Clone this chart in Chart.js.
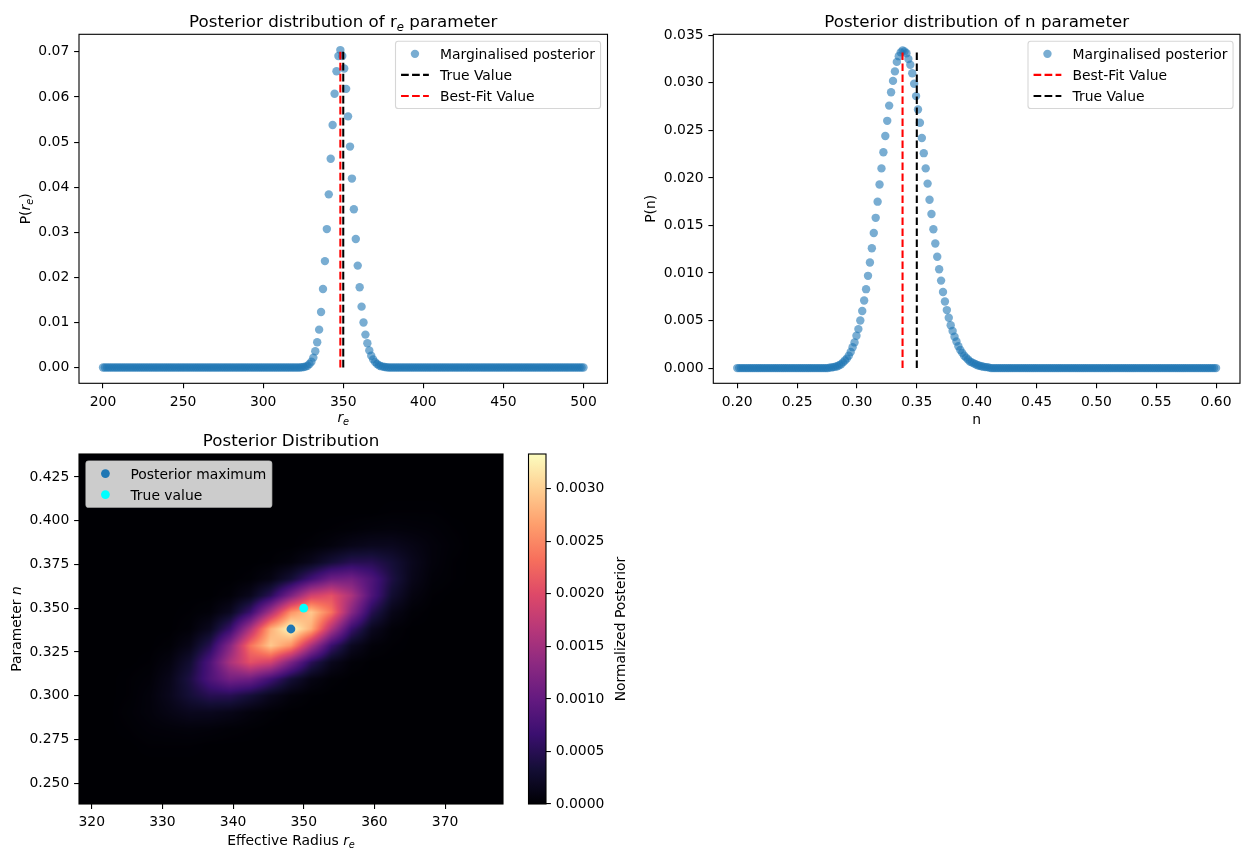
<!DOCTYPE html>
<html>
<head>
<meta charset="utf-8">
<script src="https://cdn.jsdelivr.net/npm/chart.js@4.4.1/dist/chart.umd.min.js"></script>
<style>
    html, body { margin: 0; padding: 0; background: #fff; }
    #fig { position: relative; width: 1251px; height: 861px; overflow: hidden; background: #fff; }
    #fig canvas { position: absolute; }
</style>
</head>
<body>
<div id="fig">
    <canvas id="reChart" width="625" height="440" style="left:0;top:0"></canvas>
    <canvas id="nChart" width="626" height="440" style="left:625px;top:0"></canvas>
    <canvas id="jointChart" width="515" height="431" style="left:0;top:430px"></canvas>
    <canvas id="cbChart" width="140" height="431" style="left:515px;top:430px"></canvas>
</div>
<script>
// Marginal posterior of r_e: 250 evenly spaced samples between the two grid ends
const reGrid = [200, 500];
const reValues = [
    0,0,0,0,0,0,0,0,0,0,0,0,0,0,0,0,0,0,0,0,
    0,0,0,0,0,0,0,0,0,0,0,0,0,0,0,0,0,0,0,0,
    0,0,0,0,0,0,0,0,0,0,0,0,0,0,0,0,0,0,0,0,
    0,0,0,0,0,0,0,0,0,0,0,0,0,0,0,0,0,0,0,0,
    0,0,0,0,0,0,0,0,0,0,0,0,0,0,0,0,0,0,0,0,
    0,0,0,
    0.00005, 0.0001, 0.0002, 0.0004, 0.0008, 0.0013, 0.0022, 0.0036, 0.0056, 0.0084,
    0.0123, 0.0174, 0.0236, 0.0307, 0.0384, 0.0463, 0.0538, 0.0607, 0.0657, 0.0691,
    0.0704, 0.0691, 0.0663, 0.0618, 0.0557, 0.0490, 0.0419, 0.0351, 0.0285, 0.0226,
    0.0178, 0.0135, 0.0100, 0.0073, 0.0054, 0.0038, 0.0026, 0.0018, 0.0012, 0.0008,
    0.0005, 0.0003, 0.0002, 0.0001, 0.00005,
    0,0,0,0,0,0,0,0,0,0,0,0,0,0,0,0,0,0,0,0,
    0,0,0,0,0,0,0,0,0,0,0,0,0,0,0,0,0,0,0,0,
    0,0,0,0,0,0,0,0,0,0,0,0,0,0,0,0,0,0,0,0,
    0,0,0,0,0,0,0,0,0,0,0,0,0,0,0,0,0,0,0,0,
    0,0,0,0,0,0,0,0,0,0,0,0,0,0,0,0,0,0,0,0,
    0,0
];
const reTrue = 350;
const reBest = 348.19;
const reLimX = [185, 515];
const reLimY = [-0.0035, 0.0739];
const reTicksX = [200, 250, 300, 350, 400, 450, 500];
const reTicksY = [0, 0.01, 0.02, 0.03, 0.04, 0.05, 0.06, 0.07];

// Marginal posterior of n: 250 evenly spaced samples between the two grid ends
const nGrid = [0.2, 0.6];
const nValues = [
    0,0,0,0,0,0,0,0,0,0,0,0,0,0,0,0,0,0,0,0,
    0,0,0,0,0,0,0,0,0,0,0,0,0,0,0,0,0,0,0,0,
    0,0,0,0,0,0,0,0,
    0.00005, 0.00007, 0.0001, 0.00015, 0.0002, 0.0003, 0.0004, 0.0006, 0.0008, 0.0010,
    0.0013, 0.0017, 0.0022, 0.0027, 0.0034, 0.0041, 0.0050, 0.0060, 0.0071, 0.0083,
    0.0097, 0.0111, 0.0126, 0.0142, 0.0158, 0.0175, 0.0193, 0.0210, 0.0227, 0.0244,
    0.0260, 0.0276, 0.0290, 0.0302, 0.0312, 0.0322, 0.0328, 0.0332, 0.0334, 0.0333,
    0.0331, 0.0325, 0.0319, 0.0310, 0.0299, 0.0286, 0.0272, 0.0258, 0.0242, 0.0226,
    0.0210, 0.0194, 0.0177, 0.0162, 0.0146, 0.0131, 0.0117, 0.0104, 0.0092, 0.0080,
    0.0070, 0.0061, 0.0053, 0.0045, 0.0039, 0.0033, 0.0028, 0.0023, 0.0019, 0.0016,
    0.0013, 0.0011, 0.0009, 0.0007, 0.0006, 0.0005, 0.0004, 0.0003, 0.00025, 0.0002,
    0.00015, 0.0001, 0.0001, 0.00005,
    0,0,0,0,0,0,0,0,0,0,0,0,0,0,0,0,0,0,0,0,
    0,0,0,0,0,0,0,0,0,0,0,0,0,0,0,0,0,0,0,0,
    0,0,0,0,0,0,0,0,0,0,0,0,0,0,0,0,0,0,0,0,
    0,0,0,0,0,0,0,0,0,0,0,0,0,0,0,0,0,0,0,0,
    0,0,0,0,0,0,0,0,0,0,0,0,0,0,0,0,0,0,0,0,
    0,0,0,0,0,0,0,0,0,0,0,0,0,0,0,0,0,0
];
const nTrue = 0.35;
const nBest = 0.3381;
const nLimX = [0.18, 0.62];
const nLimY = [-0.0016, 0.0351];
const nTicksX = [0.20, 0.25, 0.30, 0.35, 0.40, 0.45, 0.50, 0.55, 0.60];
const nTicksY = [0, 0.005, 0.010, 0.015, 0.020, 0.025, 0.030, 0.035];

// Joint posterior, 21 x 21 cells in units of 1e-5, first row = highest n
const jointX = [318.2, 378.2];
const jointY = [0.2381, 0.4381];
const jointUnit = 1e-5;
const jointGrid = [
    [0,0,0,0,0,0,0,0,0,0,0,0,0,0,0,0,0,0,0,0,0],
    [0,0,0,0,0,0,0,0,0,0,0,0,0,0,0,0,0,0,0,0,0],
    [0,0,0,0,0,0,0,0,0,0,0,0,0,0,0,0,0,0,0,0,0],
    [0,0,0,0,0,0,0,0,0,0,0,0,0,0,0,1,1,1,0,0,0],
    [0,0,0,0,0,0,0,0,0,0,0,0,1,2,4,5,4,3,1,0,0],
    [0,0,0,0,0,0,0,0,0,0,0,2,6,13,17,17,11,5,2,0,0],
    [0,0,0,0,0,0,0,0,0,1,5,16,34,49,49,34,16,5,1,0,0],
    [0,0,0,0,0,0,0,0,2,10,33,71,108,113,82,41,14,3,1,0,0],
    [0,0,0,0,0,0,0,3,16,52,119,188,206,157,82,30,8,1,0,0,0],
    [0,0,0,0,0,1,4,19,65,155,257,295,235,129,49,13,2,0,0,0,0],
    [0,0,0,0,0,3,18,64,160,277,333,277,160,64,18,3,0,0,0,0,0],
    [0,0,0,0,2,13,49,129,235,295,257,155,65,19,4,1,0,0,0,0,0],
    [0,0,0,1,8,30,82,157,206,188,119,52,16,3,0,0,0,0,0,0,0],
    [0,0,1,3,14,41,82,113,108,71,33,10,2,0,0,0,0,0,0,0,0],
    [0,0,1,5,16,34,49,49,34,16,5,1,0,0,0,0,0,0,0,0,0],
    [0,0,2,5,11,17,17,13,6,2,0,0,0,0,0,0,0,0,0,0,0],
    [0,0,1,3,4,5,4,2,1,0,0,0,0,0,0,0,0,0,0,0,0],
    [0,0,0,1,1,1,0,0,0,0,0,0,0,0,0,0,0,0,0,0,0],
    [0,0,0,0,0,0,0,0,0,0,0,0,0,0,0,0,0,0,0,0,0],
    [0,0,0,0,0,0,0,0,0,0,0,0,0,0,0,0,0,0,0,0,0],
    [0,0,0,0,0,0,0,0,0,0,0,0,0,0,0,0,0,0,0,0,0]
];
const jointMax = [348.19, 0.3381];
const jointTrue = [350, 0.35];
const jointTicksX = [320, 330, 340, 350, 360, 370];
const jointTicksY = [0.250, 0.275, 0.300, 0.325, 0.350, 0.375, 0.400, 0.425];
const cbTicks = [0, 0.0005, 0.0010, 0.0015, 0.0020, 0.0025, 0.0030];

// ---- styling ----
const FS = 13.9;
const TITLE_FS = 16.7;
const FAMILY = "'DejaVu Sans', sans-serif";
const BLUE = '#1f77b4';
const BLUE_A = 'rgba(31,119,180,0.6)';
const DASH = [7.7, 3.3];

Chart.defaults.font.family = FAMILY;
Chart.defaults.font.size = FS;
Chart.defaults.color = '#000';

// magma colormap, 11 stops
const MAGMA = [[0,0,4],[20,14,54],[59,15,112],[100,26,128],[140,41,129],[183,55,121],
               [222,73,104],[247,112,92],[254,159,109],[254,207,146],[252,253,191]];
function magma(t) {
    t = Math.max(0, Math.min(1, t)) * 10;
    const i = Math.min(9, Math.floor(t)), f = t - i;
    const a = MAGMA[i], b = MAGMA[i + 1];
    return [a[0] + (b[0] - a[0]) * f, a[1] + (b[1] - a[1]) * f, a[2] + (b[2] - a[2]) * f];
}

function toPoints(grid, values) {
    const step = (grid[1] - grid[0]) / (values.length - 1);
    return values.map((v, i) => ({ x: grid[0] + i * step, y: v }));
}

// text with italic / subscript pieces
function fontFor(s, size) {
    return (s.it ? 'italic ' : '') + (s.sub ? size * 0.7 : size) + 'px ' + FAMILY;
}
function drawRich(ctx, segs, x, y, size, rot) {
    ctx.save();
    ctx.translate(x, y);
    ctx.rotate(rot || 0);
    let w = 0;
    segs.forEach(s => { ctx.font = fontFor(s, size); w += ctx.measureText(s.t).width; });
    let cx = -w / 2;
    ctx.fillStyle = '#000';
    ctx.textBaseline = 'alphabetic';
    ctx.textAlign = 'left';
    segs.forEach(s => {
        ctx.font = fontFor(s, size);
        ctx.fillText(s.t, cx, s.sub ? size * 0.25 : 0);
        cx += ctx.measureText(s.t).width;
    });
    ctx.restore();
}

function drawLegend(ctx, a, L) {
    const pad = 0.4 * FS, hl = 2 * FS, htp = 0.8 * FS, ls = 0.5 * FS, rowH = 14.1;
    ctx.font = FS + 'px ' + FAMILY;
    const tw = Math.max(...L.items.map(it => ctx.measureText(it.text).width));
    const w = 2 * pad + hl + htp + tw;
    const h = 2 * pad + L.items.length * rowH + (L.items.length - 1) * ls;
    const left = L.loc === 'ul' ? a.left + 0.5 * FS : a.right - 0.5 * FS - w;
    const top = a.top + 0.5 * FS;
    ctx.beginPath();
    ctx.roundRect(left, top, w, h, 2.8);
    ctx.fillStyle = L.face;
    ctx.fill();
    ctx.strokeStyle = 'rgba(204,204,204,0.8)';
    ctx.lineWidth = 1.1;
    ctx.stroke();
    L.items.forEach((it, i) => {
        const cy = top + pad + rowH / 2 + i * (rowH + ls);
        const x0 = left + pad;
        if (it.kind === 'dot') {
            ctx.beginPath();
            ctx.arc(x0 + hl / 2, cy, it.r, 0, Math.PI * 2);
            ctx.fillStyle = it.color;
            ctx.fill();
        } else {
            ctx.beginPath();
            ctx.setLineDash(DASH);
            ctx.lineWidth = 2.08;
            ctx.strokeStyle = it.color;
            ctx.moveTo(x0, cy);
            ctx.lineTo(x0 + hl, cy);
            ctx.stroke();
            ctx.setLineDash([]);
        }
        ctx.fillStyle = '#000';
        ctx.font = FS + 'px ' + FAMILY;
        ctx.textBaseline = 'alphabetic';
        ctx.fillText(it.text, x0 + hl + htp, cy + 5.1);
    });
}

// frame, titles, axis labels, legend
const decor = {
    id: 'decor',
    afterDraw(chart, args, o) {
        const { ctx, chartArea: a } = chart;
        ctx.save();
        if (o.gradient) {
            const g = ctx.createLinearGradient(0, a.bottom, 0, a.top);
            MAGMA.forEach((c, i) => g.addColorStop(i / 10, `rgb(${c[0]},${c[1]},${c[2]})`));
            ctx.fillStyle = g;
            ctx.fillRect(a.left, a.top, a.right - a.left, a.bottom - a.top);
        }
        ctx.strokeStyle = '#000';
        ctx.lineWidth = 1.1;
        ctx.strokeRect(a.left, a.top, a.right - a.left, a.bottom - a.top);
        if (o.title) drawRich(ctx, o.title, (a.left + a.right) / 2, a.top - 7.6, TITLE_FS, 0);
        if (o.xLabel) drawRich(ctx, o.xLabel, (a.left + a.right) / 2, a.bottom + o.xLabelDy, FS, 0);
        if (o.yLabel) drawRich(ctx, o.yLabel, o.yLabelX, (a.top + a.bottom) / 2, FS, -Math.PI / 2);
        if (o.legend) drawLegend(ctx, a, o.legend);
        ctx.restore();
    }
};

// joint posterior image, each pixel read back through the chart scales
const heatmap = {
    id: 'heatmap',
    beforeDatasetsDraw(chart) {
        const { ctx, chartArea: a, scales: { x, y } } = chart;
        const rows = jointGrid.length, cols = jointGrid[0].length;
        const vmax = Math.max(...jointGrid.flat());
        const w = Math.round(a.right - a.left), h = Math.round(a.bottom - a.top);
        const off = document.createElement('canvas');
        off.width = w; off.height = h;
        const octx = off.getContext('2d');
        const img = octx.createImageData(w, h);
        const cell = (r, c) => jointGrid[Math.max(0, Math.min(rows - 1, r))][Math.max(0, Math.min(cols - 1, c))];
        for (let py = 0; py < h; py++) {
            const vy = y.getValueForPixel(a.top + py + 0.5);
            const fr = (jointY[1] - vy) / (jointY[1] - jointY[0]) * rows - 0.5;
            const r0 = Math.floor(fr), dr = fr - r0;
            for (let px = 0; px < w; px++) {
                const vx = x.getValueForPixel(a.left + px + 0.5);
                const fc = (vx - jointX[0]) / (jointX[1] - jointX[0]) * cols - 0.5;
                const c0 = Math.floor(fc), dc = fc - c0;
                const v = (cell(r0, c0) * (1 - dc) + cell(r0, c0 + 1) * dc) * (1 - dr) +
                          (cell(r0 + 1, c0) * (1 - dc) + cell(r0 + 1, c0 + 1) * dc) * dr;
                const col = magma(v / vmax);
                const k = (py * w + px) * 4;
                img.data[k] = col[0]; img.data[k + 1] = col[1]; img.data[k + 2] = col[2]; img.data[k + 3] = 255;
            }
        }
        octx.putImageData(img, 0, 0);
        ctx.drawImage(off, a.left, a.top);
    }
};

function linAxis(lim, ticks, fmt, fixed, isX, position) {
    return {
        type: 'linear',
        position: position,
        min: lim[0],
        max: lim[1],
        afterBuildTicks: s => { s.ticks = ticks.map(v => ({ value: v })); },
        afterFit: s => { if (isX) s.height = fixed; else s.width = fixed; },
        ticks: {
            callback: v => fmt(v),
            padding: isX ? 5.5 : 4.8,
            autoSkip: false,
            maxRotation: 0,
            color: '#000',
            font: { family: FAMILY, size: FS, lineHeight: 1.2 }
        },
        grid: { drawOnChartArea: false, drawTicks: true, tickLength: 4.9, color: '#000', lineWidth: 1.1 },
        border: { display: false }
    };
}

function vline(xv, ymax, color, order) {
    return {
        data: [{ x: xv, y: 0 }, { x: xv, y: ymax }],
        showLine: true, borderColor: color, borderWidth: 2.08, borderDash: DASH,
        borderCapStyle: 'butt', pointRadius: 0, order: order
    };
}

const common = {
    responsive: false,
    animation: false,
    events: [],
    plugins: { legend: { display: false }, tooltip: { enabled: false } }
};

// ---- r_e marginal ----
const reMax = Math.max(...reValues);
new Chart(document.getElementById('reChart'), {
    type: 'scatter',
    data: {
        datasets: [
            vline(reBest, reMax, '#ff0000', 0),
            vline(reTrue, reMax, '#000000', 1),
            { data: toPoints(reGrid, reValues), backgroundColor: BLUE_A, borderWidth: 0, pointRadius: 4.2, order: 2 }
        ]
    },
    options: {
        ...common,
        layout: { padding: { left: 0, top: 34.3, right: 17.5, bottom: 0 } },
        scales: {
            x: linAxis(reLimX, reTicksX, v => v.toFixed(0), 56.7, true, 'bottom'),
            y: linAxis(reLimY, reTicksY, v => v.toFixed(2), 79, false, 'left')
        },
        plugins: {
            ...common.plugins,
            decor: {
                title: [{ t: 'Posterior distribution of r' }, { t: 'e', sub: 1, it: 1 }, { t: ' parameter' }],
                xLabel: [{ t: 'r', it: 1 }, { t: 'e', sub: 1, it: 1 }], xLabelDy: 38.4,
                yLabel: [{ t: 'P(' }, { t: 'r', it: 1 }, { t: 'e', sub: 1, it: 1 }, { t: ')' }], yLabelX: 29.5,
                legend: {
                    loc: 'ur', face: 'rgba(255,255,255,0.8)',
                    items: [
                        { kind: 'dot', color: BLUE_A, r: 4.2, text: 'Marginalised posterior' },
                        { kind: 'dash', color: '#000000', text: 'True Value' },
                        { kind: 'dash', color: '#ff0000', text: 'Best-Fit Value' }
                    ]
                }
            }
        }
    },
    plugins: [decor]
});

// ---- n marginal ----
const nMax = Math.max(...nValues);
new Chart(document.getElementById('nChart'), {
    type: 'scatter',
    data: {
        datasets: [
            vline(nTrue, nMax, '#000000', 0),
            vline(nBest, nMax, '#ff0000', 1),
            { data: toPoints(nGrid, nValues), backgroundColor: BLUE_A, borderWidth: 0, pointRadius: 4.2, order: 2 }
        ]
    },
    options: {
        ...common,
        layout: { padding: { left: 0, top: 34.3, right: 11, bottom: 0 } },
        scales: {
            x: linAxis(nLimX, nTicksX, v => v.toFixed(2), 56.7, true, 'bottom'),
            y: linAxis(nLimY, nTicksY, v => v.toFixed(3), 88.3, false, 'left')
        },
        plugins: {
            ...common.plugins,
            decor: {
                title: [{ t: 'Posterior distribution of n parameter' }],
                xLabel: [{ t: 'n' }], xLabelDy: 40.7,
                yLabel: [{ t: 'P(n)' }], yLabelX: 29.9,
                legend: {
                    loc: 'ur', face: 'rgba(255,255,255,0.8)',
                    items: [
                        { kind: 'dot', color: BLUE_A, r: 4.2, text: 'Marginalised posterior' },
                        { kind: 'dash', color: '#ff0000', text: 'Best-Fit Value' },
                        { kind: 'dash', color: '#000000', text: 'True Value' }
                    ]
                }
            }
        }
    },
    plugins: [decor]
});

// ---- joint posterior ----
new Chart(document.getElementById('jointChart'), {
    type: 'scatter',
    data: {
        datasets: [
            { data: [{ x: jointMax[0], y: jointMax[1] }], backgroundColor: BLUE, borderWidth: 0, pointRadius: 4.4 },
            { data: [{ x: jointTrue[0], y: jointTrue[1] }], backgroundColor: '#00ffff', borderWidth: 0, pointRadius: 4.4 }
        ]
    },
    options: {
        ...common,
        layout: { padding: { left: 0, top: 24, right: 12, bottom: 0 } },
        scales: {
            x: linAxis(jointX, jointTicksX, v => v.toFixed(0), 57, true, 'bottom'),
            y: linAxis(jointY, jointTicksY, v => v.toFixed(3), 79, false, 'left')
        },
        plugins: {
            ...common.plugins,
            decor: {
                title: [{ t: 'Posterior Distribution' }],
                xLabel: [{ t: 'Effective Radius ' }, { t: 'r', it: 1 }, { t: 'e', sub: 1, it: 1 }], xLabelDy: 41,
                yLabel: [{ t: 'Parameter ' }, { t: 'n', it: 1 }], yLabelX: 20.6,
                legend: {
                    loc: 'ul', face: 'rgba(255,255,255,0.8)',
                    items: [
                        { kind: 'dot', color: BLUE, r: 4.4, text: 'Posterior maximum' },
                        { kind: 'dot', color: '#00ffff', r: 4.4, text: 'True value' }
                    ]
                }
            }
        }
    },
    plugins: [heatmap, decor]
});

// ---- colour bar ----
const cbMax = Math.max(...jointGrid.flat()) * jointUnit;
new Chart(document.getElementById('cbChart'), {
    type: 'scatter',
    data: { datasets: [] },
    options: {
        ...common,
        layout: { padding: { left: 13.5, top: 24, right: 0, bottom: 57 } },
        scales: {
            x: { type: 'linear', display: false, min: 0, max: 1 },
            y: linAxis([0, cbMax], cbTicks, v => v.toFixed(4), 109, false, 'right')
        },
        plugins: {
            ...common.plugins,
            decor: {
                gradient: true,
                yLabel: [{ t: 'Normalized Posterior' }], yLabelX: 110
            }
        }
    },
    plugins: [decor]
});
</script>
</body>
</html>
